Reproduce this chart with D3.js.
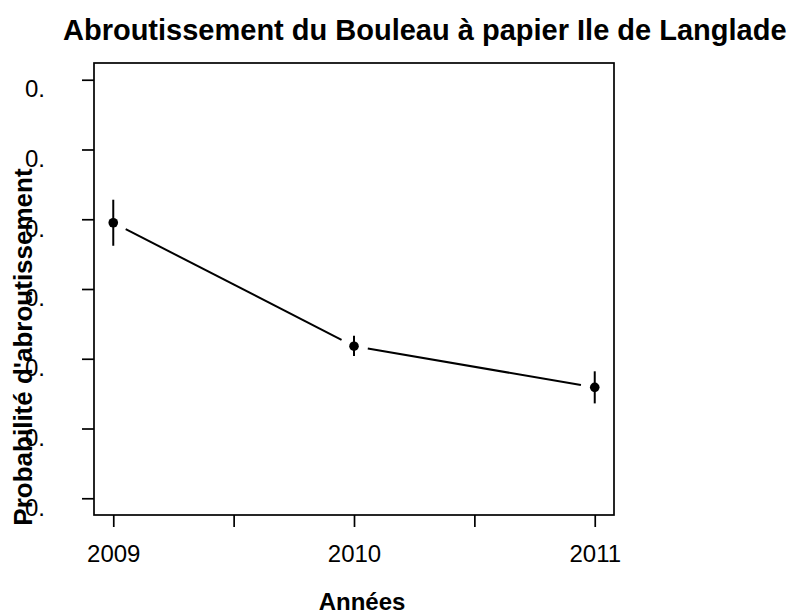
<!DOCTYPE html>
<html><head><meta charset="utf-8">
<script src="https://cdn.jsdelivr.net/npm/d3@7"></script>
<style>body{margin:0;background:#fff}svg{display:block}text{font-family:"Liberation Sans",Arial,sans-serif;fill:#000}</style>
</head><body><div id="chart"></div>
<script>
const years = [2009, 2010, 2011];
const means = [0.495, 0.318, 0.259];
const upper = [0.528, 0.333, 0.282];
const lower = [0.462, 0.304, 0.236];
const xTicks = [2009, 2009.5, 2010, 2010.5, 2011];
const xTickLabels = ["2009", "", "2010", "", "2011"];
const yTicks = [0.1, 0.2, 0.3, 0.4, 0.5, 0.6, 0.7];
const yTickLabels = ["0.", "0.", "0.", "0.", "0.", "0.", "0."];
const title = "Abroutissement du Bouleau à papier Ile de Langlade";
const xLabel = "Années";
const yLabel = "Probabilité d'abroutissement";

const W = 796, H = 615;
const box = {l: 94, r: 614, t: 63, b: 515};
const FF = '"Liberation Sans",Arial,sans-serif';
const svg = d3.select("#chart").append("svg").attr("width", W).attr("height", H);

const xExt = (2011 - 2009) * 0.04, yExt = (0.7 - 0.1) * 0.04;
const x = d3.scaleLinear().domain([2009 - xExt, 2011 + xExt]).range([box.l, box.r]);
const y = d3.scaleLinear().domain([0.1 - yExt, 0.7 + yExt]).range([box.b, box.t]);

// box
svg.append("rect").attr("x", box.l).attr("y", box.t).attr("width", box.r - box.l).attr("height", box.b - box.t)
  .attr("fill", "none").attr("stroke", "#000").attr("stroke-width", 1.7);

// x axis
const xAxis = d3.axisBottom(x).tickValues(xTicks).tickSize(12).tickPadding(18)
  .tickFormat((d, i) => xTickLabels[i]);
const gx = svg.append("g").attr("transform", `translate(0,${box.b})`).call(xAxis);
gx.select(".domain").remove();
gx.selectAll(".tick line").attr("stroke-width", 1.7);
gx.selectAll(".tick text").attr("font-size", 24).style("font-family", FF);

// y axis
const yAxis = d3.axisLeft(y).tickValues(yTicks).tickSize(12).tickFormat((d, i) => yTickLabels[i]);
const gy = svg.append("g").attr("transform", `translate(${box.l},0)`).call(yAxis);
gy.select(".domain").remove();
gy.selectAll(".tick line").attr("stroke-width", 1.7);
gy.selectAll(".tick text").attr("font-size", 24).attr("text-anchor", "start")
  .attr("x", 25 - box.l).attr("dy", "0.7em").style("font-family", FF);

// error bars
svg.selectAll(".err").data(years).join("line").attr("class", "err")
  .attr("x1", d => x(d)).attr("x2", d => x(d))
  .attr("y1", (d, i) => y(upper[i])).attr("y2", (d, i) => y(lower[i]))
  .attr("stroke", "#000").attr("stroke-width", 2);

// connecting segments with gaps (type="b")
const gap = 14;
const segs = d3.range(years.length - 1).map(i => {
  const x1 = x(years[i]), y1 = y(means[i]), x2 = x(years[i + 1]), y2 = y(means[i + 1]);
  const L = Math.hypot(x2 - x1, y2 - y1), ux = (x2 - x1) / L, uy = (y2 - y1) / L;
  return [x1 + ux * gap, y1 + uy * gap, x2 - ux * gap, y2 - uy * gap];
});
svg.selectAll(".seg").data(segs).join("line").attr("class", "seg")
  .attr("x1", d => d[0]).attr("y1", d => d[1]).attr("x2", d => d[2]).attr("y2", d => d[3])
  .attr("stroke", "#000").attr("stroke-width", 2);

// points
svg.selectAll(".pt").data(years).join("circle").attr("class", "pt")
  .attr("cx", d => x(d)).attr("cy", (d, i) => y(means[i])).attr("r", 4.8).attr("fill", "#000");

// titles
svg.append("text").attr("x", 63).attr("y", 40).attr("font-size", 29).attr("font-weight", "bold").text(title);
svg.append("text").attr("x", 362).attr("y", 610).attr("text-anchor", "middle").attr("font-size", 24).attr("font-weight", "bold").text(xLabel);
svg.append("text").attr("transform", "translate(32,347) rotate(-90)").attr("text-anchor", "middle")
  .attr("font-size", 26).attr("font-weight", "bold").text(yLabel);
</script></body></html>
